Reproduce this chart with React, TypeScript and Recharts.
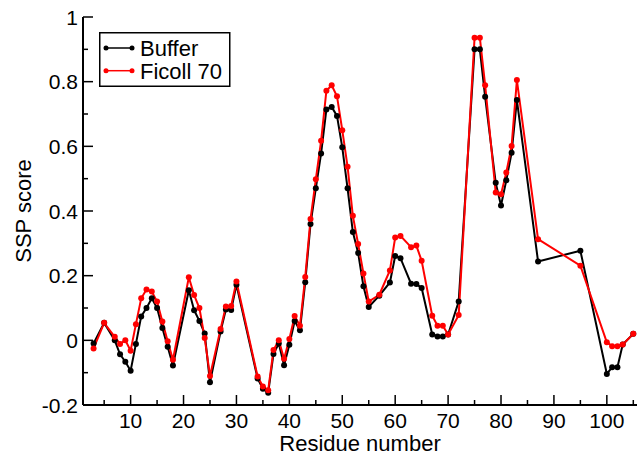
import React from 'react';
import { LineChart, Line, XAxis, YAxis, Legend } from 'recharts';

const residues = [
  3, 5, 7, 8, 9, 10, 11, 12, 13, 14, 15, 16, 17, 18, 21, 22, 23, 24, 25, 27, 28, 29, 30,
  34, 35, 36, 37, 38, 39, 40, 41, 42, 43, 44, 45, 46, 47, 48, 49, 50, 51, 52, 53, 54, 55,
  57, 59, 60, 61, 63, 64, 65, 67, 68, 69, 70, 72, 75, 76, 77, 79, 80, 81, 82, 83, 87, 95,
  100, 101, 102, 103, 105,
];

const bufferScores = [
  -0.01, 0.054, 0.0, -0.043, -0.066, -0.094, -0.011, 0.074, 0.1, 0.13, 0.1, 0.038, -0.02, -0.078,
  0.155, 0.093, 0.06, 0.021, -0.13, 0.027, 0.095, 0.094, 0.172,
  -0.118, -0.15, -0.162, -0.042, -0.01, -0.077, -0.014, 0.06, 0.031, 0.18, 0.36, 0.47, 0.578,
  0.714, 0.722, 0.694, 0.597, 0.47, 0.335, 0.27, 0.167, 0.103,
  0.138, 0.179, 0.261, 0.254, 0.175, 0.174, 0.162, 0.018, 0.012, 0.012, 0.018, 0.12, 0.9, 0.9,
  0.753, 0.487, 0.417, 0.495, 0.58, 0.743, 0.244, 0.277,
  -0.104, -0.083, -0.083, -0.013, 0.02,
];

const ficollScores = [
  -0.025, 0.054, 0.011, -0.011, 0.0, -0.032, 0.05, 0.13, 0.157, 0.151, 0.12, 0.058, -0.003, -0.06,
  0.195, 0.14, 0.1, 0.007, -0.11, 0.035, 0.105, 0.106, 0.182,
  -0.112, -0.143, -0.154, -0.03, 0.0, -0.057, 0.004, 0.075, 0.045, 0.196, 0.375, 0.498, 0.617,
  0.772, 0.789, 0.755, 0.65, 0.537, 0.385, 0.298, 0.207, 0.12,
  0.141, 0.216, 0.318, 0.323, 0.288, 0.293, 0.246, 0.076, 0.045, 0.045, 0.018, 0.078, 0.936, 0.936,
  0.789, 0.457, 0.452, 0.519, 0.601, 0.805, 0.313, 0.231,
  -0.006, -0.018, -0.018, -0.013, 0.02,
];

const xTicks = [5, 10, 15, 20, 25, 30, 35, 40, 45, 50, 55, 60, 65, 70, 75, 80, 85, 90, 95, 100, 105];
const yTicks = [-0.2, -0.1, 0, 0.1, 0.2, 0.3, 0.4, 0.5, 0.6, 0.7, 0.8, 0.9, 1];

const seriesNames = ['Buffer', 'Ficoll 70'];
const seriesColors = ['#000000', '#ff0000'];

const data = residues.map((r, i) => ({
  residue: r,
  buffer: bufferScores[i],
  ficoll: ficollScores[i],
}));

const FONT = '"Liberation Sans", Arial, Helvetica, sans-serif';

const isMajorX = (v: number) => v % 10 === 0;
const isMajorY = (v: number) => Math.round(v * 10) % 2 === 0;
const fmtY = (v: number) => String(Number(v.toFixed(1)));

const BottomTick = (props: any) => {
  const { x, y, payload } = props;
  const major = isMajorX(payload.value);
  return (
    <g>
      <line x1={x} y1={y} x2={x} y2={y - (major ? 10 : 5)} stroke="#000" strokeWidth={1.5} />
      {major && (
        <text x={x} y={y + 23} textAnchor="middle" fontSize={21} fontFamily={FONT} fill="#000">
          {payload.value}
        </text>
      )}
    </g>
  );
};

const TopTick = (props: any) => {
  const { x, y, payload } = props;
  const major = isMajorX(payload.value);
  return <line x1={x} y1={y} x2={x} y2={y + (major ? 10 : 5)} stroke="#000" strokeWidth={1.5} />;
};

const LeftTick = (props: any) => {
  const { x, y, payload } = props;
  const major = isMajorY(payload.value);
  return (
    <g>
      <line x1={x} y1={y} x2={x + (major ? 10 : 5)} y2={y} stroke="#000" strokeWidth={1.5} />
      {major && (
        <text x={x - 5} y={y + 7.5} textAnchor="end" fontSize={21} fontFamily={FONT} fill="#000">
          {fmtY(payload.value)}
        </text>
      )}
    </g>
  );
};

const RightTick = (props: any) => {
  const { x, y, payload } = props;
  const major = isMajorY(payload.value);
  return <line x1={x} y1={y} x2={x - (major ? 10 : 5)} y2={y} stroke="#000" strokeWidth={1.5} />;
};

const LegendBox = () => (
  <svg width={132} height={56} style={{ display: 'block' }}>
    <rect x={0.75} y={0.75} width={130} height={53.5} fill="#fff" stroke="#000" strokeWidth={1.5} />
    {seriesNames.map((name, i) => {
      const cy = 16 + i * 22.7;
      return (
        <g key={name}>
          <line x1={7} y1={cy} x2={33} y2={cy} stroke={seriesColors[i]} strokeWidth={1.5} />
          <circle cx={7} cy={cy} r={2.5} fill={seriesColors[i]} />
          <circle cx={33} cy={cy} r={2.5} fill={seriesColors[i]} />
          <text x={41} y={cy + 8} fontSize={22} fontFamily={FONT} fill="#000">
            {name}
          </text>
        </g>
      );
    })}
  </svg>
);

const App: React.FC = () => {
  return (
    <div style={{ position: 'absolute', left: 0, top: 0, background: '#fff' }}>
      <LineChart width={642} height={455} data={data} margin={{ top: 17, right: 5, bottom: 0, left: 0 }}>
        <XAxis
          xAxisId="bottom"
          dataKey="residue"
          type="number"
          domain={[1, 105.7]}
          ticks={xTicks}
          interval={0}
          tick={<BottomTick />}
          tickLine={false}
          tickSize={0}
          tickMargin={0}
          height={50}
          axisLine={{ stroke: '#000', strokeWidth: 2 }}
          allowDataOverflow
          label={{
            content: () => (
              <text x={360} y={451} textAnchor="middle" fontSize={22} fontFamily={FONT} fill="#000">
                Residue number
              </text>
            ),
          }}
        />
        <XAxis
          xAxisId="top"
          orientation="top"
          dataKey="residue"
          type="number"
          domain={[1, 105.7]}
          ticks={xTicks}
          interval={0}
          tick={<TopTick />}
          tickLine={false}
          tickSize={0}
          tickMargin={0}
          height={0}
          axisLine={{ stroke: '#000', strokeWidth: 2 }}
          allowDataOverflow
        />
        <YAxis
          yAxisId="left"
          type="number"
          domain={[-0.2, 1]}
          ticks={yTicks}
          interval={0}
          tick={<LeftTick />}
          tickLine={false}
          tickSize={0}
          tickMargin={0}
          width={83}
          axisLine={{ stroke: '#000', strokeWidth: 2 }}
          allowDataOverflow
          label={{
            content: () => (
              <text
                x={31}
                y={211}
                transform="rotate(-90 31 211)"
                textAnchor="middle"
                fontSize={22}
                fontFamily={FONT}
                fill="#000"
              >
                SSP score
              </text>
            ),
          }}
        />
        <YAxis
          yAxisId="right"
          orientation="right"
          type="number"
          domain={[-0.2, 1]}
          ticks={yTicks}
          interval={0}
          tick={<RightTick />}
          tickLine={false}
          tickSize={0}
          tickMargin={0}
          width={0}
          axisLine={{ stroke: '#000', strokeWidth: 2 }}
          allowDataOverflow
        />
        <Legend
          layout="vertical"
          align="center"
          verticalAlign="middle"
          content={() => <LegendBox />}
          wrapperStyle={{ left: 99, top: 32, width: 132, height: 56 }}
        />
        <Line
          xAxisId="bottom"
          yAxisId="left"
          type="linear"
          dataKey="buffer"
          name="Buffer"
          stroke="#000000"
          strokeWidth={2}
          dot={{ r: 3, fill: '#000000', stroke: '#000000', strokeWidth: 0 }}
          activeDot={false}
          isAnimationActive={false}
        />
        <Line
          xAxisId="bottom"
          yAxisId="left"
          type="linear"
          dataKey="ficoll"
          name="Ficoll 70"
          stroke="#ff0000"
          strokeWidth={2}
          dot={{ r: 3, fill: '#ff0000', stroke: '#ff0000', strokeWidth: 0 }}
          activeDot={false}
          isAnimationActive={false}
        />
      </LineChart>
    </div>
  );
};

export default App;
